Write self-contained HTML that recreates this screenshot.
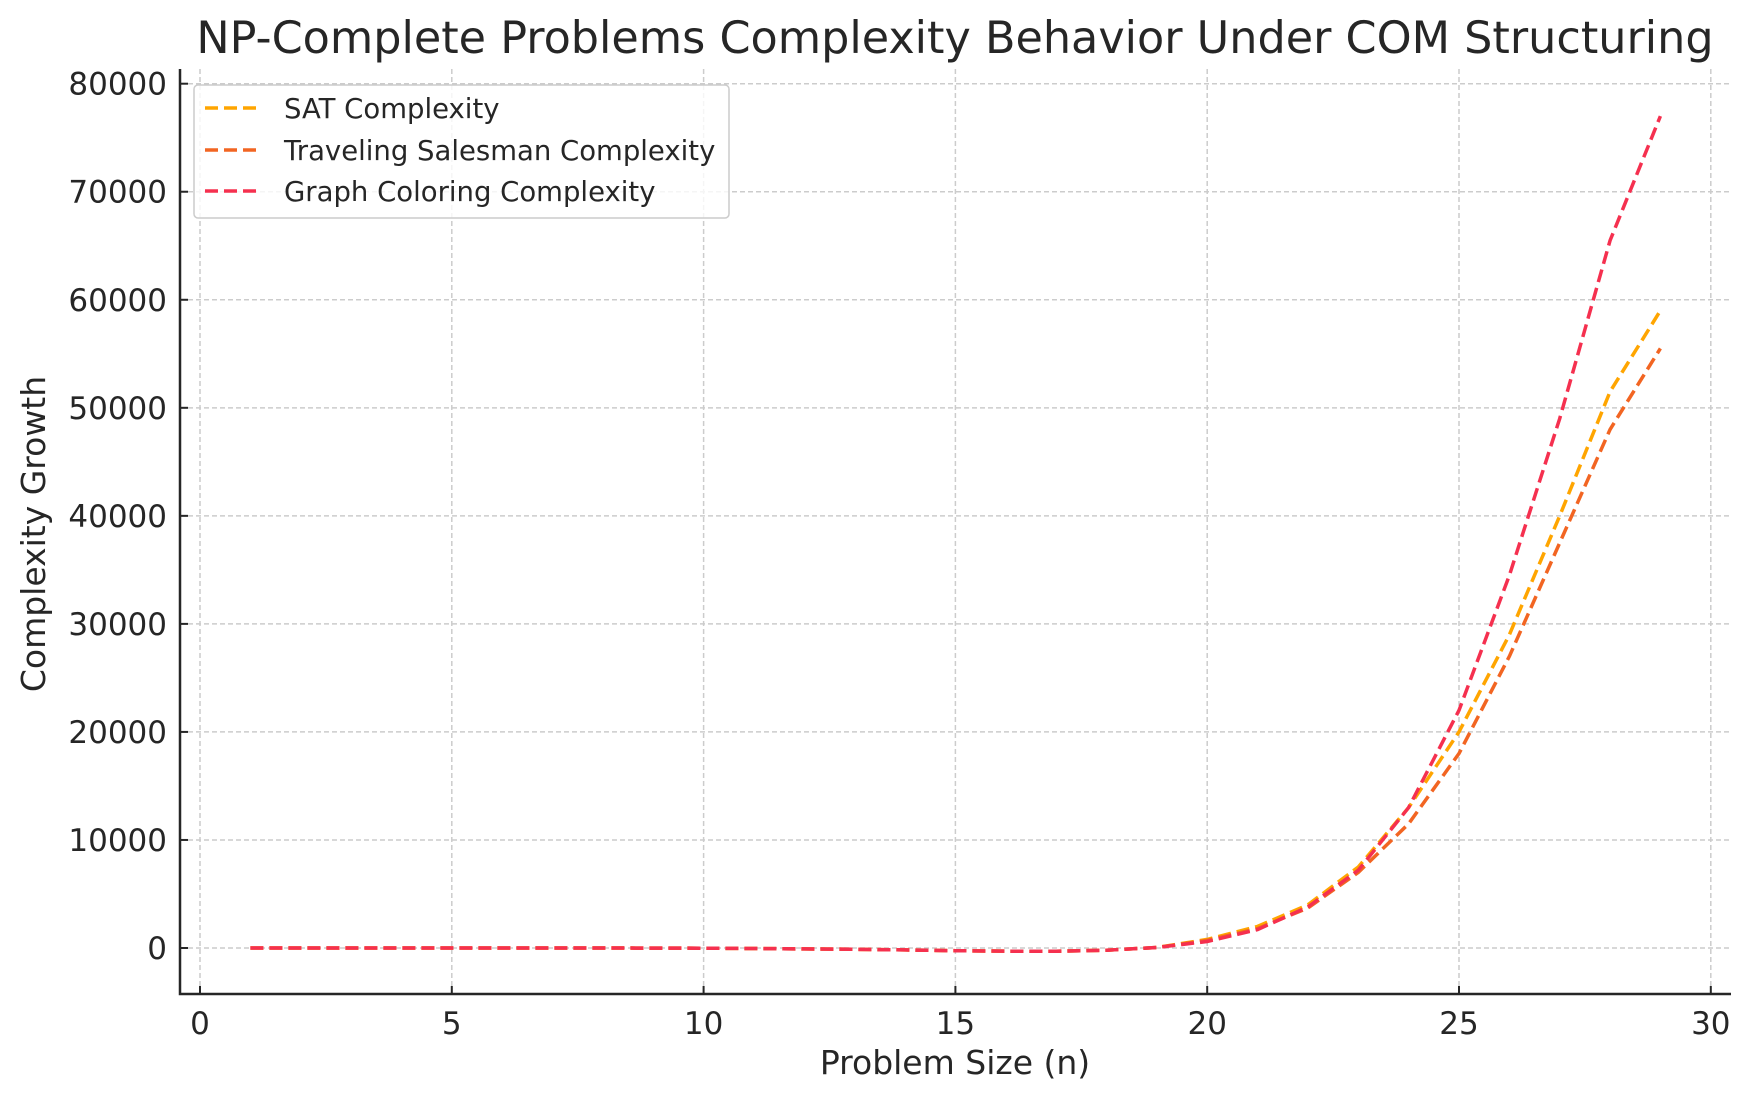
<!DOCTYPE html>
<html><head><meta charset="utf-8"><style>
body{margin:0;background:#fff}
svg text{font-family:"DejaVu Sans","Liberation Sans",sans-serif;fill:#262626}
</style></head><body>
<svg id="chart" width="1751" height="1101" xmlns="http://www.w3.org/2000/svg">
<text x="955" y="53" font-size="44.5" text-anchor="middle" fill="#333">NP-Complete Problems Complexity Behavior Under COM Structuring</text>
<g id="grid"></g>
<g id="axes"></g>
<g id="series"></g>
<text x="955" y="1074" font-size="33" text-anchor="middle">Problem Size (n)</text>
<text transform="translate(45,534) rotate(-90)" font-size="33" text-anchor="middle">Complexity Growth</text>
<g>
<rect x="194" y="85" width="535" height="133" rx="4" fill="#fff" fill-opacity="0.8" stroke="#ccc" stroke-width="1.5"/>
<g><line x1="205" y1="108" x2="261" y2="108" stroke="#FFA500" stroke-width="3.5" stroke-dasharray="13,6"/><text x="284" y="118" font-size="27.5">SAT Complexity</text></g>
<g><line x1="205" y1="150" x2="261" y2="150" stroke="#F26522" stroke-width="3.5" stroke-dasharray="13,6"/><text x="284" y="160" font-size="27.5">Traveling Salesman Complexity</text></g>
<g><line x1="205" y1="191" x2="261" y2="191" stroke="#F5304F" stroke-width="3.5" stroke-dasharray="13,6"/><text x="284" y="201" font-size="27.5">Graph Coloring Complexity</text></g>
</g>
</svg>
<script>
const nValues=[1,2,3,4,5,6,7,8,9,10,11,12,13,14,15,16,17,18,19,20,21,22,23,24,25,26,27,28,29];
const satValues=[0,0,0,0,0,0,0,0,-10,-20,-50,-80,-120,-180,-250,-300,-300,-200,50,800,2000,4000,7500,13000,20000,29000,40000,51500,59000];
const tspValues=[0,0,0,0,0,0,0,0,-10,-20,-50,-80,-120,-180,-250,-300,-300,-200,50,700,1800,3700,7000,11500,18000,27000,37500,48000,55500];
const gcValues=[0,0,0,0,0,0,0,0,-10,-20,-50,-80,-120,-180,-250,-300,-300,-200,50,600,1700,3800,7200,13000,22000,34500,49000,65500,77000];
const xTicks=[0,5,10,15,20,25,30];
const yTicks=[0,10000,20000,30000,40000,50000,60000,70000,80000];
const NS='http://www.w3.org/2000/svg';
const L=180,R=1731,T=69,B=994;
const xs=v=>200+v*(1710.8-200)/30;
const ys=v=>948-v*(948-83.7)/80000;
function mk(t,a,p){const e=document.createElementNS(NS,t);for(const k in a)e.setAttribute(k,a[k]);p.appendChild(e);return e;}
const grid=document.getElementById('grid'),axes=document.getElementById('axes'),series=document.getElementById('series');
xTicks.forEach(t=>{
 const g=mk('line',{x1:xs(t),x2:xs(t),y1:T,y2:B,stroke:'#ccc','stroke-width':1.5,'stroke-dasharray':'5,3'},grid);
 
 
 mk('line',{x1:xs(t),x2:xs(t),y1:B,y2:B-8,stroke:'#262626','stroke-width':2},axes);
 const tx=mk('text',{x:xs(t),y:1034,'font-size':31,'text-anchor':'middle'},axes);tx.textContent=t;
 
 
});
yTicks.forEach(t=>{
 const g=mk('line',{x1:L,x2:R,y1:ys(t),y2:ys(t),stroke:'#ccc','stroke-width':1.5,'stroke-dasharray':'5,3'},grid);
 
 
 mk('line',{x1:L,x2:L+8,y1:ys(t),y2:ys(t),stroke:'#262626','stroke-width':2},axes);
 const tx=mk('text',{x:167,y:ys(t)+11,'font-size':31,'text-anchor':'end'},axes);tx.textContent=t;
 
 
});
const ax=mk('path',{d:`M${L},${T} L${L},${B} L${R},${B}`,fill:'none',stroke:'#262626','stroke-width':2.5},axes);


[[satValues,'#FFA500','sat-line'],[tspValues,'#F26522','tsp-line'],[gcValues,'#F5304F','graph-coloring-line']].forEach(([vals,c,n])=>{
 const d=vals.map((v,i)=>(i?'L':'M')+xs(nValues[i]).toFixed(1)+','+ys(v).toFixed(1)).join(' ');
 const p=mk('path',{d:d,fill:'none',stroke:c,'stroke-width':3.5,'stroke-dasharray':'13,6'},series);
 
 
});
</script>
</body></html>
